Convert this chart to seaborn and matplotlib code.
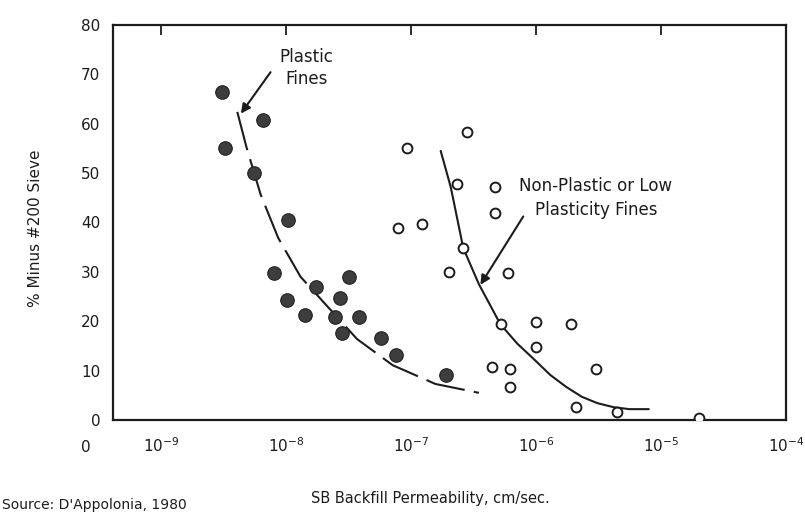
import numpy as np
import pandas as pd
import matplotlib
matplotlib.use("Agg")
import matplotlib.pyplot as plt
import seaborn as sns

# ---- data ----
plastic_k = [3.05e-9, 3.25e-9, 6.5e-9, 5.5e-9, 1.03e-8, 7.9e-9, 1.02e-8, 1.4e-8,
             1.72e-8, 3.2e-8, 2.7e-8, 2.46e-8, 2.8e-8, 3.84e-8, 5.7e-8, 7.6e-8, 1.9e-7]
plastic_pct = [66.5, 55.0, 60.8, 50.0, 40.5, 29.8, 24.4, 21.3,
               27.0, 29.0, 24.8, 20.9, 17.6, 20.8, 16.7, 13.2, 9.1]

nonplastic_k = [9.3e-8, 2.8e-7, 2.33e-7, 4.67e-7, 4.67e-7, 1.21e-7, 7.8e-8, 2.6e-7,
                2.0e-7, 6.0e-7, 5.2e-7, 1.0e-6, 1.9e-6, 1.0e-6, 4.4e-7, 6.2e-7,
                6.2e-7, 3.04e-6, 2.07e-6, 4.45e-6, 2.03e-5]
nonplastic_pct = [55.0, 58.4, 47.8, 47.1, 42.0, 39.6, 38.8, 34.8,
                  29.9, 29.7, 19.4, 19.9, 19.4, 14.8, 10.7, 10.3,
                  6.7, 10.3, 2.6, 1.6, 0.5]

plastic_curve_k = [4.05e-9, 4.79e-9, 6.24e-9, 8.6e-9, 1.30e-8, 3.68e-8, 7.1e-8, 1.56e-7, 3.48e-7]
plastic_curve_pct = [62.4, 55.3, 45.6, 36.9, 29.0, 16.4, 11.1, 7.3, 5.5]

nonplastic_curve_k = [1.72e-7, 2.07e-7, 2.61e-7, 3.48e-7, 5.17e-7, 7.04e-7, 9.7e-7,
                      1.30e-6, 1.74e-6, 2.32e-6, 3.1e-6, 4.16e-6, 5.56e-6, 7.97e-6]
nonplastic_curve_pct = [54.5, 47.2, 34.8, 27.5, 19.4, 15.5, 12.2,
                        9.1, 6.7, 4.7, 3.4, 2.6, 2.2, 2.2]

x_ticks = [1e-9, 1e-8, 1e-7, 1e-6, 1e-5, 1e-4]
x_tick_labels = [r"$10^{-9}$", r"$10^{-8}$", r"$10^{-7}$", r"$10^{-6}$", r"$10^{-5}$", r"$10^{-4}$"]
y_ticks = [0, 10, 20, 30, 40, 50, 60, 70, 80]

pts_plastic = pd.DataFrame({"k": plastic_k, "pct": plastic_pct})
pts_nonplastic = pd.DataFrame({"k": nonplastic_k, "pct": nonplastic_pct})
cur_plastic = pd.DataFrame({"k": plastic_curve_k, "pct": plastic_curve_pct})
cur_nonplastic = pd.DataFrame({"k": nonplastic_curve_k, "pct": nonplastic_curve_pct})

sns.set_style("white")
plt.rcParams["font.family"] = ["DejaVu Sans"]
ink = "#1c1c1c"

fig = plt.figure(figsize=(8.05, 5.14), dpi=100)
W, H = 805, 514
left, right, top, bottom = 112.7, 786, 25, 420
ax = fig.add_axes([left / W, 1 - bottom / H, (right - left) / W, (bottom - top) / H])

sns.lineplot(data=cur_plastic, x="k", y="pct", sort=False, ax=ax, color=ink,
             lw=1.5, linestyle=(0, (19, 4.5)))
sns.lineplot(data=cur_nonplastic, x="k", y="pct", sort=False, ax=ax, color=ink, lw=1.5)
sns.scatterplot(data=pts_plastic, x="k", y="pct", ax=ax, s=95, color="#3d3d3d",
                edgecolor="#222222", linewidth=0.8, zorder=3)
sns.scatterplot(data=pts_nonplastic, x="k", y="pct", ax=ax, s=50, facecolor="white",
                edgecolor=ink, linewidth=1.4, zorder=3)

ax.set_xscale("log")
ax.set_xlim(10 ** -9.39, 1e-4)
ax.set_ylim(0, 80)
ax.set_xticks(x_ticks)
ax.set_xticklabels(x_tick_labels)
ax.minorticks_off()
ax.set_yticks(y_ticks)
ax.set_xlabel("")
ax.set_ylabel("")
ax.tick_params(axis="x", direction="in", length=7, width=1.3, color=ink,
               labelsize=11, labelcolor=ink, pad=12, top=True)
ax.tick_params(axis="y", direction="in", length=7, width=1.3, color=ink,
               labelsize=11, labelcolor=ink, pad=9)
for sp in ax.spines.values():
    sp.set_visible(True)
    sp.set_color(ink)
    sp.set_linewidth(1.6)

# "0" label at the origin of the x axis
ax.text(-0.04, -0.05, "0", transform=ax.transAxes, ha="center", va="top",
        fontsize=11, color=ink)

# annotations
ax.text(1.45e-8, 71.3, "Plastic\nFines", ha="center", va="center", fontsize=12,
        color=ink, linespacing=1.3)
ax.annotate("", xy=(4.2e-9, 61.6), xytext=(7.7e-9, 70.9),
            arrowprops=dict(arrowstyle="-|>", color=ink, lw=1.5, mutation_scale=14))
ax.text(3.0e-6, 45.0, "Non-Plastic or Low\nPlasticity Fines", ha="center", va="center",
        fontsize=12, color=ink, linespacing=1.4)
ax.annotate("", xy=(3.48e-7, 26.9), xytext=(8.1e-7, 41.7),
            arrowprops=dict(arrowstyle="-|>", color=ink, lw=1.5, mutation_scale=14))

# axis titles and source note
fig.text(430 / W, 1 - 499 / H, "SB Backfill Permeability, cm/sec.", ha="center",
         va="center", fontsize=10.5, color=ink)
fig.text(35 / W, 1 - 228 / H, "% Minus #200 Sieve", rotation=90, ha="center",
         va="center", fontsize=11, color=ink)
fig.text(0.002, 2 / H, "Source: D'Appolonia, 1980", ha="left", va="bottom",
         fontsize=10, color=ink)

fig.savefig("out.png", dpi=100)
